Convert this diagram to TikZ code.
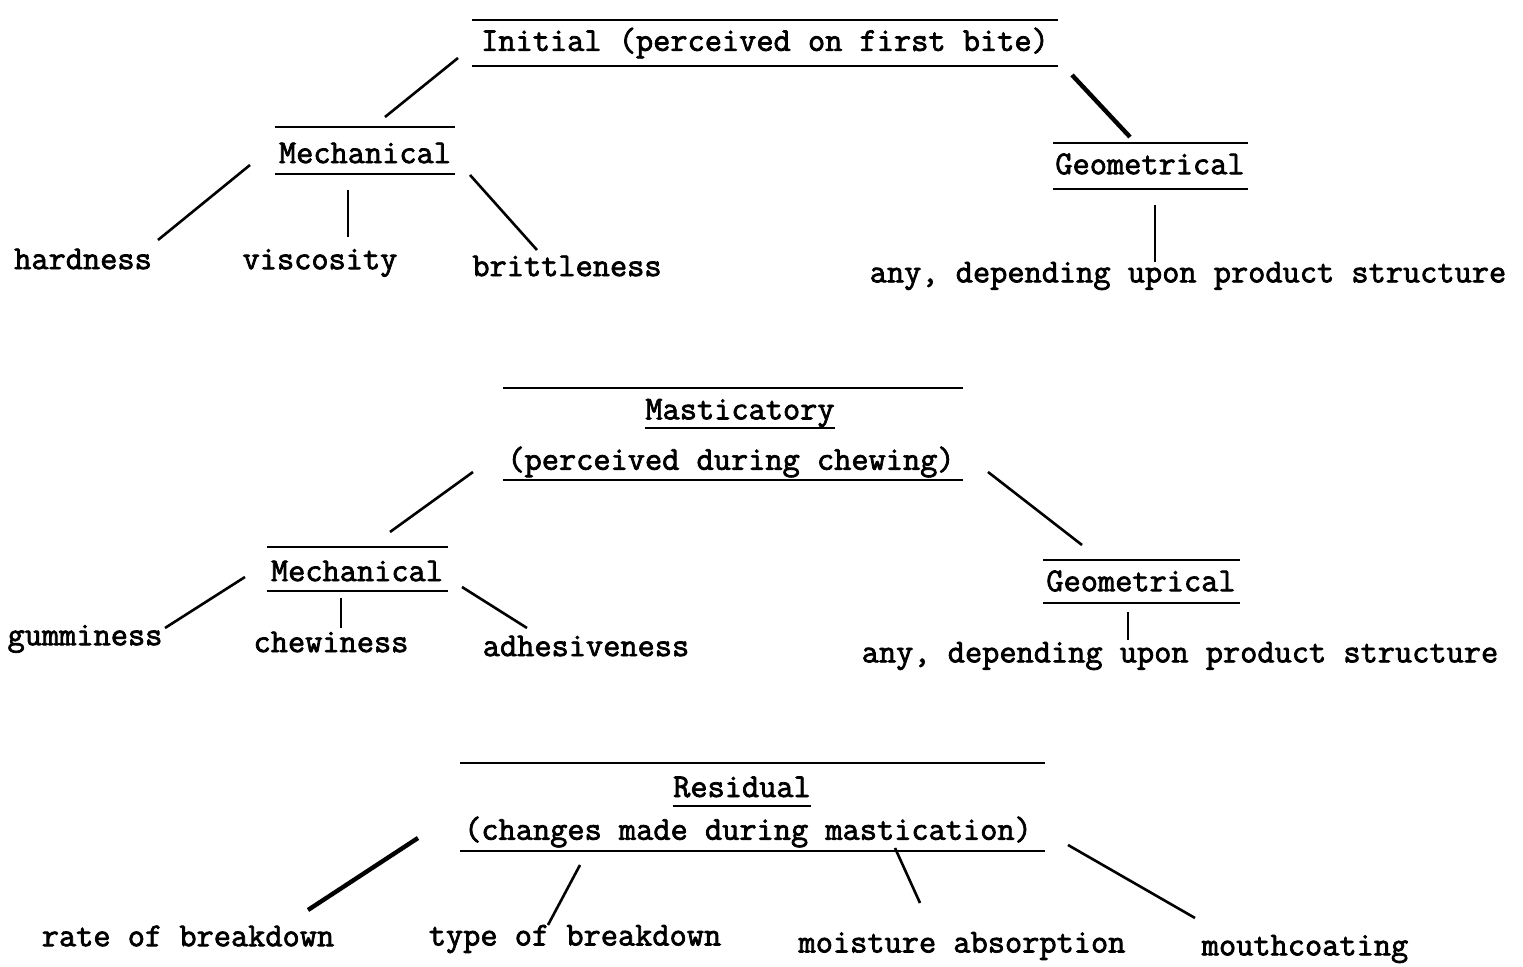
\documentclass[tikz,border=0pt]{standalone}
\usepackage{fontspec}
\newfontfamily\twfont{Latin Modern Mono}[FakeBold=2.2]
\begin{document}
\begin{tikzpicture}[x=0.5pt,y=-0.5pt,
  txt/.style={font=\twfont\fontsize{16.7}{18}\selectfont, inner sep=0pt, anchor=center},
  rule/.style={line width=1.4pt},
  con/.style={line width=1.3pt},
  heavy/.style={line width=2.2pt}]
\useasboundingbox[fill=white] (0,0) rectangle (1523,967);

% ---------- Initial ----------
\node[txt] (ini) at (765,43) {Initial (perceived on first bite)};
\draw[rule] (472,20) -- (1058,20);
\draw[rule] (472,66) -- (1058,66);

\node[txt] (mech1) at (365,153) {Mechanical};
\draw[rule] (275,127) -- (455,127);
\draw[rule] (275,174) -- (455,174);

\node[txt] (geo1) at (1150,164) {Geometrical};
\draw[rule] (1053,143) -- (1248,143);
\draw[rule] (1053,189) -- (1248,189);

\coordinate (a1) at (458,58);   \coordinate (a2) at (385,117);
\coordinate (b1) at (1072,75);  \coordinate (b2) at (1130,137);
\draw[con] (a1) -- (a2);
\draw[heavy] (b1) -- (b2);

\node[txt] (hard) at (83,259) {hardness};
\node[txt] (visc) at (320,263) {viscosity};
\node[txt] (brit) at (567,266) {brittleness};
\coordinate (c1) at (250,165); \coordinate (c2) at (158,240);
\coordinate (d1) at (348,190); \coordinate (d2) at (348,237);
\coordinate (e1) at (470,175); \coordinate (e2) at (537,250);
\draw[con] (c1) -- (c2);
\draw[con] (d1) -- (d2);
\draw[con] (e1) -- (e2);

\node[txt] (any1) at (1188,276) {any, depending upon product structure};
\coordinate (f1) at (1155,205); \coordinate (f2) at (1155,262);
\draw[con] (f1) -- (f2);

% ---------- Masticatory ----------
\node[txt] (mast) at (740,413) {Masticatory};
\draw[line width=1pt] ([yshift=-4.5pt]mast.base west) -- ([yshift=-4.5pt]mast.base east);
\node[txt] (mast2) at (731,462) {(perceived during chewing)};
\draw[rule] (503,388) -- (963,388);
\draw[rule] (503,480) -- (963,480);

\node[txt] (mech2) at (357,571) {Mechanical};
\draw[rule] (267,547) -- (448,547);
\draw[rule] (267,591) -- (448,591);

\node[txt] (geo2) at (1141,581) {Geometrical};
\draw[rule] (1043,560) -- (1240,560);
\draw[rule] (1043,603) -- (1240,603);

\coordinate (g1) at (473,472); \coordinate (g2) at (390,532);
\coordinate (h1) at (988,472); \coordinate (h2) at (1082,545);
\draw[con] (g1) -- (g2);
\draw[con] (h1) -- (h2);

\node[txt] (gum) at (85,639) {gumminess};
\node[txt] (chew) at (331,642) {chewiness};
\node[txt] (adh) at (586,646) {adhesiveness};
\coordinate (i1) at (245,577); \coordinate (i2) at (165,628);
\coordinate (j1) at (341,598); \coordinate (j2) at (341,628);
\coordinate (k1) at (462,587); \coordinate (k2) at (527,628);
\draw[con] (i1) -- (i2);
\draw[con] (j1) -- (j2);
\draw[con] (k1) -- (k2);

\node[txt] (any2) at (1180,656) {any, depending upon product structure};
\coordinate (l1) at (1128,612); \coordinate (l2) at (1128,640);
\draw[con] (l1) -- (l2);

% ---------- Residual ----------
\node[txt] (res) at (742,787) {Residual};
\draw[line width=1pt] ([yshift=-4.5pt]res.base west) -- ([yshift=-4.5pt]res.base east);
\node[txt] (res2) at (748,832) {(changes made during mastication)};
\draw[rule] (460,763) -- (1045,763);
\draw[rule] (460,851) -- (1045,851);

\node[txt] (rate) at (188,936) {rate of breakdown};
\node[txt] (type) at (575,939) {type of breakdown};
\node[txt] (moist) at (962,946) {moisture absorption};
\node[txt] (mouth) at (1305,949) {mouthcoating};
\coordinate (m1) at (418,838); \coordinate (m2) at (308,910);
\coordinate (n1) at (580,865); \coordinate (n2) at (548,925);
\coordinate (o1) at (895,848); \coordinate (o2) at (920,903);
\coordinate (p1) at (1068,845); \coordinate (p2) at (1195,918);
\draw[heavy] (m1) -- (m2);
\draw[con] (n1) -- (n2);
\draw[con] (o1) -- (o2);
\draw[con] (p1) -- (p2);
\end{tikzpicture}
\end{document}
